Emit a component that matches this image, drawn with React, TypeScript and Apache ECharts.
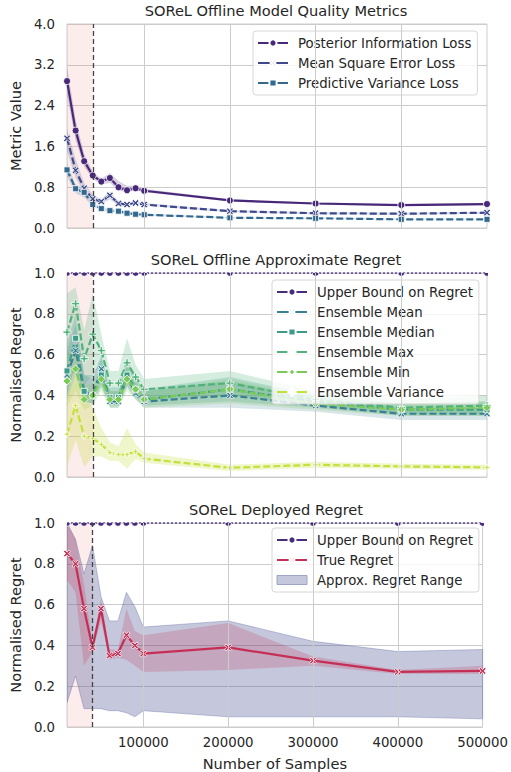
import React, { useEffect, useRef } from 'react';
import * as echarts from 'echarts';

// ---------- data ----------
const samples = [10000, 20000, 30000, 40000, 50000, 60000, 70000, 80000, 90000, 100000, 200000, 300000, 400000, 500000];
const xTickValues = [100000, 200000, 300000, 400000, 500000];
const xGridValues = [100000, 200000, 300000, 400000];
const warmupStart = 10000;
const warmupEnd = 40000;

// Panel 1: model quality metrics
const posteriorLoss = [2.88, 1.91, 1.31, 1.03, 0.91, 0.98, 0.8, 0.74, 0.78, 0.73, 0.54, 0.48, 0.45, 0.47];
const posteriorLow = [2.6, 1.72, 1.2, 0.96, 0.86, 0.88, 0.73, 0.7, 0.74, 0.7, 0.52, 0.46, 0.43, 0.45];
const posteriorHigh = [3.16, 2.12, 1.45, 1.1, 0.97, 1.08, 0.92, 0.83, 0.83, 0.77, 0.56, 0.5, 0.47, 0.49];
const mseLoss = [1.76, 1.13, 0.78, 0.57, 0.52, 0.64, 0.48, 0.46, 0.49, 0.46, 0.33, 0.29, 0.28, 0.3];
const mseLow = [1.5, 0.98, 0.7, 0.51, 0.47, 0.56, 0.44, 0.43, 0.46, 0.44, 0.31, 0.27, 0.26, 0.28];
const mseHigh = [1.95, 1.35, 0.88, 0.65, 0.57, 0.71, 0.53, 0.5, 0.53, 0.49, 0.35, 0.31, 0.3, 0.32];
const pvLoss = [1.14, 0.77, 0.7, 0.46, 0.38, 0.34, 0.33, 0.29, 0.27, 0.26, 0.2, 0.19, 0.17, 0.17];
const pvLow = [1.0, 0.68, 0.6, 0.42, 0.35, 0.31, 0.3, 0.27, 0.25, 0.24, 0.19, 0.18, 0.16, 0.16];
const pvHigh = [1.26, 0.86, 0.78, 0.5, 0.41, 0.37, 0.36, 0.31, 0.29, 0.28, 0.21, 0.2, 0.18, 0.18];

// Panel 2: approximate regret
const upperBound = [1, 1, 1, 1, 1, 1, 1, 1, 1, 1, 1, 1, 1, 1];
const ensMean = [0.5, 0.62, 0.42, 0.4, 0.53, 0.37, 0.37, 0.49, 0.41, 0.37, 0.4, 0.35, 0.31, 0.31];
const ensMeanLow = [0.38, 0.5, 0.37, 0.36, 0.45, 0.34, 0.34, 0.44, 0.38, 0.34, 0.34, 0.32, 0.28, 0.28];
const ensMeanHigh = [0.62, 0.75, 0.5, 0.48, 0.6, 0.42, 0.42, 0.55, 0.46, 0.42, 0.47, 0.38, 0.34, 0.34];
const ensMedian = [0.52, 0.68, 0.42, 0.4, 0.5, 0.39, 0.39, 0.5, 0.43, 0.38, 0.43, 0.37, 0.33, 0.33];
const ensMedianLow = [0.4, 0.55, 0.37, 0.36, 0.44, 0.35, 0.35, 0.45, 0.39, 0.35, 0.37, 0.34, 0.3, 0.3];
const ensMedianHigh = [0.66, 0.8, 0.5, 0.5, 0.58, 0.44, 0.44, 0.58, 0.48, 0.43, 0.49, 0.4, 0.36, 0.37];
const ensMax = [0.71, 0.85, 0.58, 0.7, 0.62, 0.46, 0.46, 0.56, 0.49, 0.43, 0.46, 0.38, 0.34, 0.35];
const ensMaxLow = [0.55, 0.7, 0.45, 0.5, 0.55, 0.4, 0.4, 0.48, 0.44, 0.38, 0.4, 0.35, 0.31, 0.31];
const ensMaxHigh = [0.9, 0.93, 0.72, 0.9, 0.7, 0.52, 0.52, 0.68, 0.55, 0.48, 0.52, 0.42, 0.38, 0.4];
const ensMin = [0.47, 0.53, 0.38, 0.4, 0.48, 0.38, 0.38, 0.48, 0.43, 0.38, 0.43, 0.36, 0.33, 0.34];
const ensMinLow = [0.35, 0.42, 0.33, 0.35, 0.42, 0.34, 0.34, 0.42, 0.38, 0.34, 0.36, 0.33, 0.3, 0.3];
const ensMinHigh = [0.6, 0.65, 0.45, 0.46, 0.55, 0.42, 0.42, 0.54, 0.48, 0.42, 0.48, 0.39, 0.36, 0.37];
const ensVar = [0.21, 0.35, 0.2, 0.19, 0.16, 0.12, 0.11, 0.11, 0.125, 0.09, 0.045, 0.06, 0.052, 0.047];
const ensVarLow = [0.05, 0.18, 0.05, 0.1, 0.1, 0.08, 0.08, 0.04, 0.09, 0.07, 0.03, 0.045, 0.04, 0.035];
const ensVarHigh = [0.4, 0.5, 0.38, 0.34, 0.24, 0.17, 0.15, 0.24, 0.16, 0.12, 0.06, 0.075, 0.065, 0.06];

// Panel 3: deployed regret
const trueRegret = [0.85, 0.8, 0.58, 0.39, 0.58, 0.35, 0.36, 0.45, 0.4, 0.36, 0.39, 0.325, 0.27, 0.275];
const trueRegretLow = [0.72, 0.66, 0.3, 0.37, 0.52, 0.33, 0.34, 0.33, 0.3, 0.27, 0.28, 0.3, 0.26, 0.26];
const trueRegretHigh = [1.0, 0.92, 0.7, 0.41, 0.63, 0.38, 0.38, 0.58, 0.47, 0.45, 0.51, 0.345, 0.28, 0.3];
const approxRangeLow = [0.12, 0.25, 0.09, 0.09, 0.09, 0.08, 0.08, 0.07, 0.05, 0.08, 0.05, 0.05, 0.05, 0.04];
const approxRangeHigh = [1.0, 0.92, 0.75, 0.89, 0.64, 0.52, 0.52, 0.66, 0.59, 0.49, 0.52, 0.42, 0.37, 0.38];

// ---------- styling ----------
const FONT = 'DejaVu Sans';
const TXT = '#262626';
const GRIDC = '#cccccc';
const X_SYM = 'path://M2,0L5,3L8,0L10,2L7,5L10,8L8,10L5,7L2,10L0,8L3,5L0,2Z';
const PLUS_SYM = 'path://M3.6,0H6.4V3.6H10V6.4H6.4V10H3.6V6.4H0V3.6H3.6Z';

const C = {
  post: '#482878',
  mse: '#3f4a8a',
  pv: '#33698f',
  upper: '#472d7b',
  mean: '#3a8093',
  median: '#3c9c88',
  max: '#50b27a',
  min: '#7aca58',
  variance: '#c4e03c',
  truer: '#c52f55',
};

const pair = (ys: number[]) => samples.map((x, i) => [x, ys[i]]);

function band(name: string | undefined, g: number, lo: number[], hi: number[], fill: string, stroke?: string) {
  return {
    type: 'custom',
    name,
    xAxisIndex: g,
    yAxisIndex: g,
    z: 2,
    clip: true,
    silent: true,
    itemStyle: { color: fill },
    data: samples.map((x, i) => [x, lo[i], hi[i]]),
    encode: { x: 0, y: [1, 2] },
    renderItem: (params: any, api: any) => {
      if (params.dataIndex !== 0) return { type: 'group', children: [] };
      const top = samples.map((x, i) => api.coord([x, hi[i]]));
      const bot = samples.map((x, i) => api.coord([x, lo[i]])).reverse();
      return {
        type: 'polygon',
        shape: { points: top.concat(bot) },
        style: { fill, stroke: stroke || 'none', lineWidth: 1 },
      };
    },
  };
}

function line(name: string, g: number, ys: number[], color: string, symbol: string, size: number, dash: any, width = 2) {
  return {
    type: 'line',
    name,
    xAxisIndex: g,
    yAxisIndex: g,
    data: pair(ys),
    symbol,
    symbolSize: size,
    showSymbol: true,
    clip: true,
    z: 3,
    lineStyle: { color, width, type: dash },
    itemStyle: { color, borderColor: '#ffffff', borderWidth: 0.8 },
    emphasis: { disabled: true },
  };
}

// markers of the upper bound, clipped to the plot area like the reference
function clippedMarkers(g: number, ys: number[], color: string) {
  return {
    type: 'custom',
    xAxisIndex: g,
    yAxisIndex: g,
    z: 4,
    clip: true,
    silent: true,
    data: pair(ys),
    encode: { x: 0, y: 1 },
    renderItem: (params: any, api: any) => {
      const p = api.coord([api.value(0), api.value(1)]);
      return {
        type: 'circle',
        shape: { cx: p[0], cy: p[1], r: 3.3 },
        style: { fill: color, stroke: '#ffffff', lineWidth: 0.8 },
      };
    },
  };
}

function decor(g: number) {
  return [
    {
      type: 'line',
      xAxisIndex: g,
      yAxisIndex: g,
      data: [],
      z: 1,
      silent: true,
      markArea: {
        silent: true,
        itemStyle: { color: 'rgba(235,120,120,0.14)' },
        data: [[{ xAxis: warmupStart }, { xAxis: warmupEnd }]],
      },
      markLine: {
        silent: true,
        symbol: 'none',
        label: { show: false },
        lineStyle: { color: GRIDC, width: 1, type: 'solid' },
        data: xGridValues.map((v) => ({ xAxis: v })),
      },
    },
    {
      type: 'line',
      xAxisIndex: g,
      yAxisIndex: g,
      data: [],
      z: 5,
      silent: true,
      markLine: {
        silent: true,
        symbol: 'none',
        label: { show: false },
        lineStyle: { color: '#444444', width: 1.3, type: [5, 3] },
        data: [{ xAxis: warmupEnd }],
      },
    },
  ];
}

const gridTops = [24, 273, 523];
const GRID_H = 204;

function legendBox(left: number, top: number, items: any[]) {
  return {
    data: items,
    orient: 'vertical',
    left,
    top,
    itemWidth: 30,
    itemHeight: 9,
    itemGap: 6,
    padding: [5, 6, 5, 4],
    backgroundColor: 'rgba(255,255,255,0.8)',
    borderColor: '#d6d6d6',
    borderWidth: 1,
    borderRadius: 3,
    selectedMode: false,
    lineStyle: { type: 'solid' },
    textStyle: { fontFamily: FONT, fontSize: 13.3, lineHeight: 14, color: TXT, padding: [0, 0, 0, 5] },
  };
}

export default function App() {
  const ref = useRef<HTMLDivElement>(null);
  useEffect(() => {
    if (!ref.current) return;
    const chart = echarts.init(ref.current, undefined, { renderer: 'svg' });
    const yAxisBase = (g: number, max: number, interval: number, name: string) => ({
      type: 'value',
      gridIndex: g,
      min: 0,
      max,
      interval,
      name,
      nameLocation: 'middle',
      nameGap: 38,
      nameTextStyle: { fontFamily: FONT, fontSize: 14.6, color: TXT },
      axisLine: { show: false },
      axisTick: { show: false },
      axisLabel: { fontFamily: FONT, fontSize: 13.3, color: TXT, margin: 12, formatter: (v: number) => v.toFixed(1) },
      splitLine: { show: true, lineStyle: { color: GRIDC, width: 1 } },
    });
    const xAxisBase = (g: number, labels: boolean) => ({
      type: 'value',
      gridIndex: g,
      min: 10000,
      max: 500000,
      axisLine: { show: false },
      axisTick: { show: false },
      splitLine: { show: false },
      name: labels ? 'Number of Samples' : '',
      nameLocation: 'middle',
      nameGap: 29,
      nameTextStyle: { fontFamily: FONT, fontSize: 14.6, color: TXT },
      axisLabel: labels
        ? { show: true, customValues: xTickValues, fontFamily: FONT, fontSize: 13.3, color: TXT, margin: 9, formatter: (v: number) => String(v) }
        : { show: false },
    });

    const option: any = {
      animation: false,
      backgroundColor: '#ffffff',
      title: [
        { text: 'SOReL Offline Model Quality Metrics', top: 3 },
        { text: 'SOReL Offline Approximate Regret', top: 252 },
        { text: 'SOReL Deployed Regret', top: 502 },
      ].map((t) => ({
        ...t,
        left: 276,
        textAlign: 'center',
        padding: 0,
        textStyle: { fontFamily: FONT, fontSize: 14.6, fontWeight: 'normal', color: TXT },
      })),
      grid: gridTops.map((top) => ({
        left: 65,
        top,
        width: 422,
        height: GRID_H,
        show: true,
        borderColor: GRIDC,
        borderWidth: 1,
        backgroundColor: 'transparent',
      })),
      xAxis: [xAxisBase(0, false), xAxisBase(1, false), xAxisBase(2, true)],
      yAxis: [
        yAxisBase(0, 4, 0.8, 'Metric Value'),
        yAxisBase(1, 1, 0.2, 'Normalised Regret'),
        yAxisBase(2, 1, 0.2, 'Normalised Regret'),
      ],
      legend: [
        legendBox(253, 31, ['Posterior Information Loss', 'Mean Square Error Loss', 'Predictive Variance Loss']),
        legendBox(272, 280, ['Upper Bound on Regret', 'Ensemble Mean', 'Ensemble Median', 'Ensemble Max', 'Ensemble Min', 'Ensemble Variance']),
        legendBox(272, 528, [
          'Upper Bound on Regret',
          'True Regret',
          { name: 'Approx. Regret Range', icon: 'rect', itemStyle: { color: 'rgba(75,85,145,0.32)', borderColor: '#9ea4c6', borderWidth: 1 } },
        ]),
      ],
      series: [
        ...decor(0),
        ...decor(1),
        ...decor(2),
        // panel 1
        band(undefined, 0, posteriorLow, posteriorHigh, 'rgba(72,40,120,0.22)'),
        band(undefined, 0, mseLow, mseHigh, 'rgba(63,74,138,0.2)'),
        band(undefined, 0, pvLow, pvHigh, 'rgba(51,105,143,0.2)'),
        line('Posterior Information Loss', 0, posteriorLoss, C.post, 'circle', 7, 'solid', 2.2),
        line('Mean Square Error Loss', 0, mseLoss, C.mse, X_SYM, 7, [7, 3], 2.2),
        line('Predictive Variance Loss', 0, pvLoss, C.pv, 'rect', 6, [7, 3], 2.2),
        // panel 2
        band(undefined, 1, ensMaxLow, ensMaxHigh, 'rgba(80,178,122,0.24)'),
        band(undefined, 1, ensMedianLow, ensMedianHigh, 'rgba(60,156,136,0.24)'),
        band(undefined, 1, ensMeanLow, ensMeanHigh, 'rgba(58,128,147,0.2)'),
        band(undefined, 1, ensMinLow, ensMinHigh, 'rgba(122,202,88,0.22)'),
        band(undefined, 1, ensVarLow, ensVarHigh, 'rgba(196,224,60,0.28)'),
        line('Upper Bound on Regret', 1, upperBound, C.upper, 'circle', 0, [2, 2], 1.6),
        clippedMarkers(1, upperBound, C.upper),
        line('Ensemble Mean', 1, ensMean, C.mean, X_SYM, 7, [7, 3], 2.2),
        line('Ensemble Median', 1, ensMedian, C.median, 'rect', 6, [7, 3], 2.2),
        line('Ensemble Max', 1, ensMax, C.max, PLUS_SYM, 8, [7, 3], 2.2),
        line('Ensemble Min', 1, ensMin, C.min, 'diamond', 8, [7, 3], 2.2),
        line('Ensemble Variance', 1, ensVar, C.variance, PLUS_SYM, 6, [7, 3], 2.2),
        // panel 3
        band('Approx. Regret Range', 2, approxRangeLow, approxRangeHigh, 'rgba(75,85,145,0.32)', 'rgba(90,100,160,0.35)'),
        band(undefined, 2, trueRegretLow, trueRegretHigh, 'rgba(197,47,85,0.22)'),
        line('Upper Bound on Regret', 2, upperBound, C.upper, 'circle', 0, [2, 2], 1.6),
        clippedMarkers(2, upperBound, C.upper),
        line('True Regret', 2, trueRegret, C.truer, X_SYM, 7, 'solid', 2.2),
      ],
    };
    chart.setOption(option);
    return () => chart.dispose();
  }, []);
  return <div ref={ref} style={{ position: 'absolute', left: 0, top: 0, width: 511, height: 772 }} />;
}
